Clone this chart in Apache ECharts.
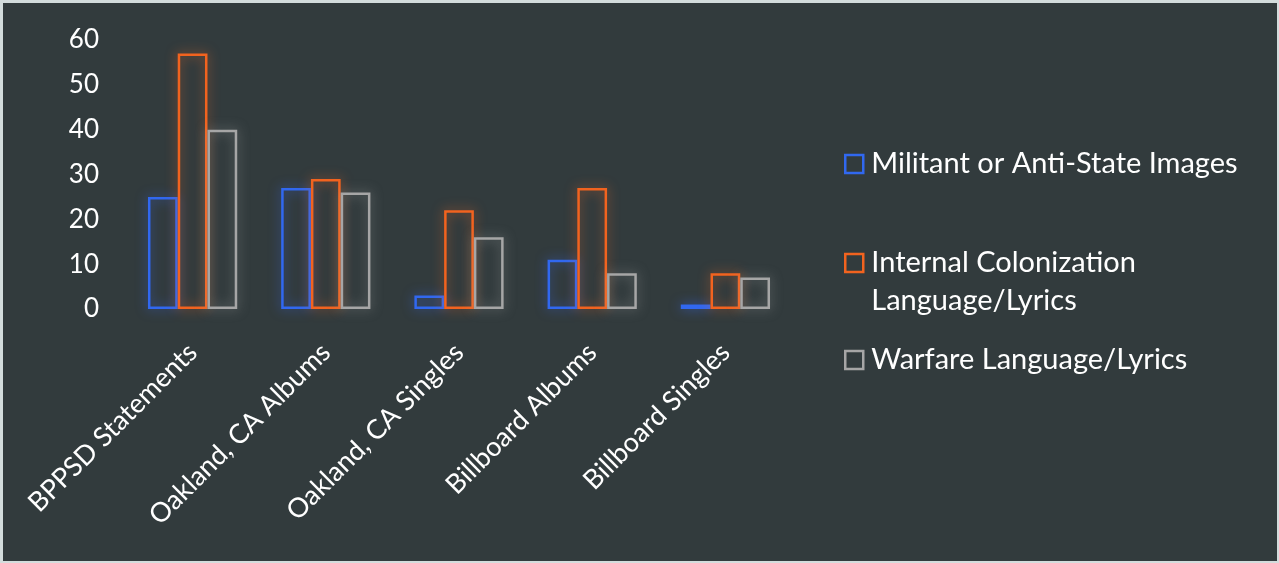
<!DOCTYPE html>
<html>
<head>
<meta charset="utf-8">
<script src="https://cdn.jsdelivr.net/npm/echarts@6/dist/echarts.min.js"></script>
<style>
html,body{margin:0;padding:0;background:#d3dcdc;}
#c{position:absolute;left:3px;top:3px;width:1274px;height:558px;background:#323b3d;}
</style>
</head>
<body>
<div id="c"></div>
<script>
const categories = ["BPPSD Statements", "Oakland, CA Albums", "Oakland, CA Singles", "Billboard Albums", "Billboard Singles"];
const seriesNames = ["Militant or Anti-State Images", "Internal Colonization Language/Lyrics", "Warfare Language/Lyrics"];
const militant = [25, 27, 3, 11, 1];
const colonization = [57, 29, 22, 27, 8];
const warfare = [40, 26, 16, 8, 7];
const yTicks = [0, 10, 20, 30, 40, 50, 60];

const colors = ["#3168f0", "#f2631f", "#a6a6a6"];
const glow = ["rgba(60,110,255,0.65)", "rgba(255,110,40,0.65)", "rgba(190,190,190,0.55)"];
const FONT = "Lato";

const chart = echarts.init(document.getElementById('c'));
const dataSets = [militant, colonization, warfare];
const series = dataSets.map((d, i) => ({
  name: seriesNames[i],
  type: 'bar',
  data: d,
  barGap: '0%',
  barCategoryGap: '33%',
  itemStyle: {
    color: 'rgba(0,0,0,0)',
    borderColor: colors[i],
    borderWidth: 2.5,
    shadowBlur: 12,
    shadowColor: glow[i]
  }
}));

const legendTops = [137, 236, 333];
const legends = seriesNames.map((n, i) => ({
  orient: 'vertical',
  left: 836,
  top: legendTops[i],
  itemWidth: 18,
  itemHeight: i === 1 ? 56 : 18,
  itemGap: 0,
  icon: i === 1 ? 'path://M0,0H18V18H0Z M0,56' : 'rect',
  data: [{name: n, itemStyle: {color: 'rgba(0,0,0,0)', borderColor: colors[i], borderWidth: 2.5}}],
  formatter: function (name) {
    return name === seriesNames[1] ? 'Internal Colonization\nLanguage/Lyrics' : name;
  },
  textStyle: {color: '#ffffff', fontSize: 29, fontFamily: FONT, lineHeight: 38, padding: [0, 0, 0, 3]},
  selectedMode: false
}));

chart.setOption({
  animation: false,
  grid: {left: 123, right: 485, top: 37, bottom: 252},
  xAxis: {
    type: 'category',
    data: categories,
    axisLine: {show: false},
    axisTick: {show: false},
    axisLabel: {color: '#ffffff', fontSize: 27, fontFamily: FONT, rotate: 45, margin: 39, interval: 0}
  },
  yAxis: {
    type: 'value',
    min: yTicks[0],
    max: yTicks[yTicks.length - 1],
    interval: 10,
    splitLine: {show: false},
    axisLine: {show: false},
    axisTick: {show: false},
    axisLabel: {color: '#ffffff', fontSize: 26, fontFamily: FONT, margin: 27}
  },
  legend: legends,
  series: series
});
</script>
</body>
</html>
